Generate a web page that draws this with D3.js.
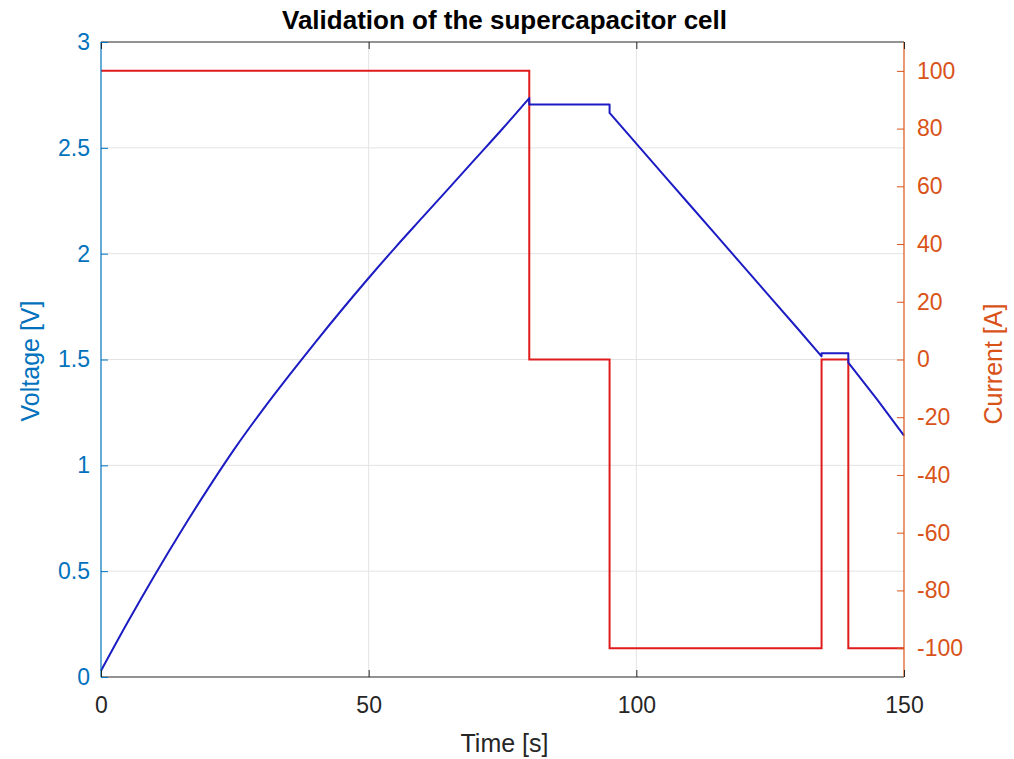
<!DOCTYPE html>
<html><head><meta charset="utf-8">
<script src="https://cdn.jsdelivr.net/npm/d3@7"></script>
<style>body{margin:0;background:#fff;}svg{display:block;font-family:"Liberation Sans",Arial,sans-serif;}</style>
</head><body>
<svg id="c" width="1014" height="759"></svg>
<script>
const title = "Validation of the supercapacitor cell";
const xTicks = [0, 50, 100, 150];
const vTicks = [0, 0.5, 1, 1.5, 2, 2.5, 3];
const iTicks = [-100, -80, -60, -40, -20, 0, 20, 40, 60, 80, 100];
// charging phase (smooth curve)
const tCharge = [0,5,10,15,20,25,30,35,40,45,50,55,60,65,70,75,80];
const vCharge = [0.03,0.26,0.48,0.69,0.89,1.08,1.255,1.42,1.58,1.735,1.885,2.03,2.17,2.31,2.45,2.59,2.735];
// rest / discharge phases (piecewise)
const tRest = [80,80,95,95,100,105,110,115,120,125,130,134.6,134.6,139.6,139.6,145,150];
const vRest = [2.735,2.705,2.705,2.665,2.52,2.375,2.23,2.085,1.94,1.795,1.65,1.515,1.53,1.53,1.485,1.31,1.14];
const tCur = [0,80,80,95,95,134.6,134.6,139.6,139.6,150];
const iCur = [100,100,0,0,-100,-100,0,0,-100,-100];

const L=101, R=904, T=42, B=677;
const cLeft="#0072BD", cRight="#D95319", cDark="#262626";
const FONT="Liberation Sans, Arial, sans-serif";
const svg=d3.select("#c");
const x=d3.scaleLinear().domain([0,150]).range([L,R]);
const yV=d3.scaleLinear().domain([0,3]).range([B,T]);
const yI=d3.scaleLinear().domain([-110,110]).range([B,T]);

// grid
const g=svg.append("g");
g.selectAll(".gx").data(xTicks.slice(1,-1)).join("line")
 .attr("x1",d=>x(d)).attr("x2",d=>x(d)).attr("y1",T).attr("y2",B)
 .attr("stroke","#e3e3e3").attr("stroke-width",1);
g.selectAll(".gy").data(vTicks.slice(1,-1)).join("line")
 .attr("x1",L).attr("x2",R).attr("y1",d=>yV(d)).attr("y2",d=>yV(d))
 .attr("stroke","#e3e3e3").attr("stroke-width",1);

// current line
const curData=tCur.map((t,i)=>[t,iCur[i]]);
svg.append("path").datum(curData)
 .attr("d",d3.line().x(d=>x(d[0])).y(d=>yI(d[1])))
 .attr("fill","none").attr("stroke","#e01b1b").attr("stroke-width",2);

// voltage line
const chargeData=tCharge.map((t,i)=>[t,vCharge[i]]);
const restData=tRest.map((t,i)=>[t,vRest[i]]);
const lineSmooth=d3.line().x(d=>x(d[0])).y(d=>yV(d[1])).curve(d3.curveMonotoneX);
const lineLin=d3.line().x(d=>x(d[0])).y(d=>yV(d[1]));
const dRest=lineLin(restData).replace(/^M/,"L");
svg.append("path")
 .attr("d",lineSmooth(chargeData)+dRest)
 .attr("fill","none").attr("stroke","#1c1cc4").attr("stroke-width",2).attr("stroke-linejoin","round");

// box
svg.append("line").attr("x1",L).attr("x2",R).attr("y1",T).attr("y2",T).attr("stroke",cDark).attr("stroke-width",1.2);
svg.append("line").attr("x1",L).attr("x2",R).attr("y1",B).attr("y2",B).attr("stroke",cDark).attr("stroke-width",1.2);
svg.append("line").attr("x1",L).attr("x2",L).attr("y1",T).attr("y2",B).attr("stroke",cLeft).attr("stroke-width",1.2);
svg.append("line").attr("x1",R).attr("x2",R).attr("y1",T).attr("y2",B).attr("stroke",cRight).attr("stroke-width",1.2);

// x axis
const xAx=d3.axisBottom(x).tickValues(xTicks).tickSizeInner(-7).tickSizeOuter(0).tickPadding(20).tickFormat(d3.format("d"));
const gx=svg.append("g").attr("transform",`translate(0,${B})`).call(xAx);
gx.select(".domain").remove();
gx.selectAll("line").attr("stroke",cDark);
gx.selectAll("text").attr("fill",cDark).style("font-size","23px").style("font-family",FONT);
const xTop=d3.axisTop(x).tickValues(xTicks).tickSizeInner(-7).tickSizeOuter(0).tickFormat("");
const gxt=svg.append("g").attr("transform",`translate(0,${T})`).call(xTop);
gxt.select(".domain").remove(); gxt.selectAll("line").attr("stroke",cDark);

// left axis
const yAx=d3.axisLeft(yV).tickValues(vTicks).tickSizeInner(-7).tickSizeOuter(0).tickPadding(11).tickFormat(d=>String(d));
const gy=svg.append("g").attr("transform",`translate(${L},0)`).call(yAx);
gy.select(".domain").remove();
gy.selectAll("line").attr("stroke",cLeft);
gy.selectAll("text").attr("fill",cLeft).style("font-size","23px").style("font-family",FONT);

// right axis
const iAx=d3.axisRight(yI).tickValues(iTicks).tickSizeInner(-7).tickSizeOuter(0).tickPadding(13).tickFormat(d=>String(d));
const gi=svg.append("g").attr("transform",`translate(${R},0)`).call(iAx);
gi.select(".domain").remove();
gi.selectAll("line").attr("stroke",cRight);
gi.selectAll("text").attr("fill",cRight).style("font-size","23px").style("font-family",FONT);

// labels
svg.append("text").attr("x",(L+R)/2+2).attr("y",29).attr("text-anchor","middle")
 .attr("font-weight","bold").attr("font-size","26px").attr("fill","#000").text(title);
svg.append("text").attr("x",(L+R)/2+2).attr("y",752).attr("text-anchor","middle")
 .attr("font-size","25px").attr("fill",cDark).text("Time [s]");
svg.append("text").attr("transform",`translate(39,361) rotate(-90)`).attr("text-anchor","middle")
 .attr("font-size","25px").attr("fill",cLeft).text("Voltage [V]");
svg.append("text").attr("transform",`translate(1002,364) rotate(-90)`).attr("text-anchor","middle")
 .attr("font-size","25px").attr("fill",cRight).text("Current [A]");
</script>
</body></html>
